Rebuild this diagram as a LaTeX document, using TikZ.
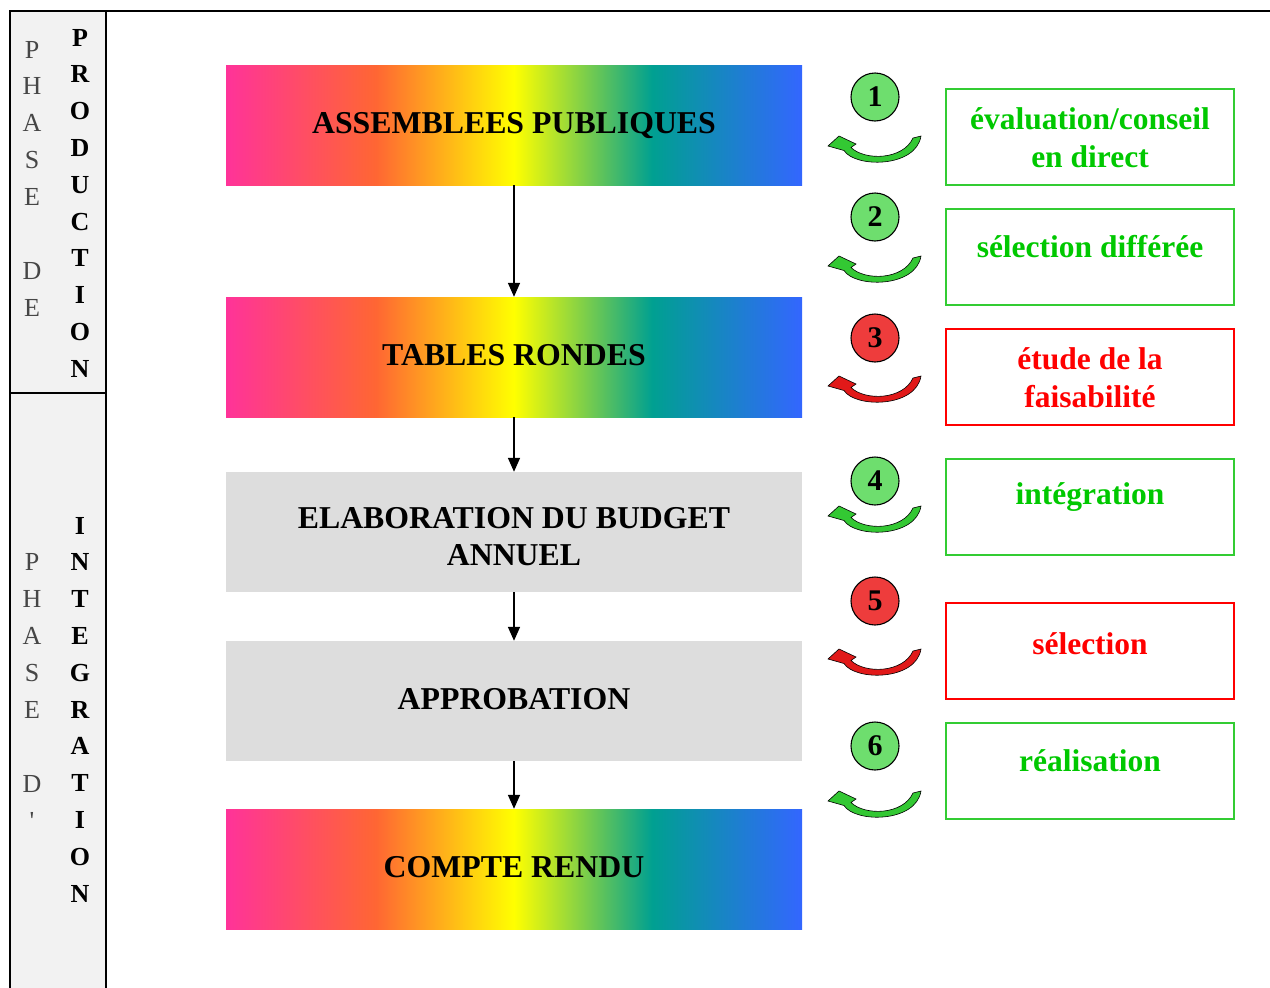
\documentclass[tikz,border=0pt]{standalone}
\usepackage{fontspec}
\setmainfont{Liberation Serif}
\usetikzlibrary{arrows.meta}
\definecolor{rpink}{RGB}{255,51,153}
\definecolor{rorange}{RGB}{255,102,51}
\definecolor{ryellow}{RGB}{255,255,0}
\definecolor{rteal}{RGB}{0,160,145}
\definecolor{rblue}{RGB}{51,102,255}
\definecolor{boxgrey}{RGB}{221,221,221}
\definecolor{colgrey}{RGB}{242,242,242}
\definecolor{lettergrey}{RGB}{70,70,70}
\definecolor{tgreen}{RGB}{0,200,0}
\definecolor{bgreen}{RGB}{51,204,51}
\definecolor{cgreen}{RGB}{110,222,110}
\definecolor{cred}{RGB}{238,60,60}
\definecolor{agreen}{RGB}{51,200,51}
\definecolor{ared}{RGB}{225,25,25}
\pgfdeclarehorizontalshading{rainbow}{100bp}{color(0bp)=(rpink); color(25bp)=(rpink); color(38bp)=(rorange); color(50bp)=(ryellow); color(62bp)=(rteal); color(75bp)=(rblue); color(100bp)=(rblue)}
\tikzset{
  mainbox/.style={minimum width=576pt, minimum height=120pt, inner sep=0pt, align=center,
    font=\fontsize{31.8}{37}\selectfont\bfseries},
  oneline/.style={text height=22pt, text depth=5pt},
  rainbowbox/.style={mainbox, shading=rainbow},
  greybox/.style={mainbox, fill=boxgrey},
  flow/.style={line width=1.5pt, -{Triangle[width=12pt,length=14pt]}},
  sidebox/.style={minimum width=288pt, minimum height=96pt, inner sep=0pt, line width=1.6pt},
  greenbox/.style={sidebox, draw=bgreen},
  redbox/.style={sidebox, draw=red},
  sidetext/.style={font=\fontsize{31.5}{38}\selectfont\bfseries, align=center, inner sep=0pt},
  numcircle/.style={circle, draw=black, line width=1.1pt, minimum size=48pt, inner sep=0pt,
    font=\fontsize{30}{30}\selectfont\bfseries},
  boldletter/.style={font=\fontsize{26}{26}\selectfont\bfseries, anchor=base, inner sep=0pt},
  thinletter/.style={font=\fontsize{26}{26}\selectfont, text=lettergrey, anchor=base, inner sep=0pt},
  curvarrow/.pic={
    \filldraw[fill=#1, draw=black, line width=0.6pt, line join=miter]
      (-47,9) -- (-36,-1) -- (-19,7) -- (-24,10.5)
      .. controls (-10,24) and (28,23) .. (38,1)
      -- (46,-1) .. controls (41,31) and (-20,31) .. (-31,13.5) -- cycle;
  }
}
\begin{document}
\begin{tikzpicture}[x=1pt,y=-1pt]
\useasboundingbox (0,0) rectangle (1270,988);
% left column
\fill[colgrey] (10,11) rectangle (106,990);
\draw[line width=2pt] (1270,11) -- (10,11) -- (10,990);
\draw[line width=2pt] (106,11) -- (106,990);
\draw[line width=2pt] (10,393) -- (106,393);
\foreach \l [count=\i from 0] in {P,R,O,D,U,C,T,I,O,N}
  \node[boldletter] (prod\i) at (80,{46+36.8*\i}) {\l};
\foreach \l/\k in {P/0,H/1,A/2,S/3,E/4,D/6,E/7}
  \node[thinletter] (pa\k) at (32,{58+36.9*\k}) {\l};
\foreach \l [count=\i from 0] in {I,N,T,E,G,R,A,T,I,O,N}
  \node[boldletter] (integ\i) at (80,{534+36.8*\i}) {\l};
\foreach \l/\k in {P/0,H/1,A/2,S/3,E/4,D/6}
  \node[thinletter] (pb\k) at (32,{570+37*\k}) {\l};
\node[thinletter] (pb7) at (32,829) {\textquotesingle};
% main flow
\node[rainbowbox, oneline] (a1) at (514,125) {ASSEMBLEES PUBLIQUES};
\node[rainbowbox, oneline] (a2) at (514,357) {TABLES RONDES};
\node[greybox, text height=67pt, text depth=0pt] (a3) at (514,532) {ELABORATION DU BUDGET\\ANNUEL};
\node[greybox, oneline] (a4) at (514,701) {APPROBATION};
\node[rainbowbox, oneline] (a5) at (514,869) {COMPTE RENDU};
\draw[flow] (a1) -- (a2);
\draw[flow] (a2) -- (a3);
\draw[flow] (a3) -- (a4);
\draw[flow] (a4) -- (a5);
% circles
\node[numcircle, fill=cgreen] (c1) at (875,97) {1};
\node[numcircle, fill=cgreen] (c2) at (875,217) {2};
\node[numcircle, fill=cred] (c3) at (875,338) {3};
\node[numcircle, fill=cgreen] (c4) at (875,481) {4};
\node[numcircle, fill=cred] (c5) at (875,601) {5};
\node[numcircle, fill=cgreen] (c6) at (875,746) {6};
% curved arrows
\pic at (875,137) {curvarrow=agreen};
\pic at (875,257) {curvarrow=agreen};
\pic at (875,377) {curvarrow=ared};
\pic at (875,507) {curvarrow=agreen};
\pic at (875,650) {curvarrow=ared};
\pic at (875,792) {curvarrow=agreen};
% side boxes
\node[greenbox] (r1) at (1090,137) {};
\node[greenbox] (r2) at (1090,257) {};
\node[redbox] (r3) at (1090,377) {};
\node[greenbox] (r4) at (1090,507) {};
\node[redbox] (r5) at (1090,651) {};
\node[greenbox] (r6) at (1090,771) {};
\node[sidetext, text=tgreen] (t1) at (1090,138) {évaluation/conseil\\en direct};
\node[sidetext, text=tgreen] (t2) at (1090,247) {sélection différée};
\node[sidetext, text=red] (t3) at (1090,378) {étude de la\\faisabilité};
\node[sidetext, text=tgreen] (t4) at (1090,497) {intégration};
\node[sidetext, text=red] (t5) at (1090,644) {sélection};
\node[sidetext, text=tgreen] (t6) at (1090,761) {réalisation};
\end{tikzpicture}
\end{document}
